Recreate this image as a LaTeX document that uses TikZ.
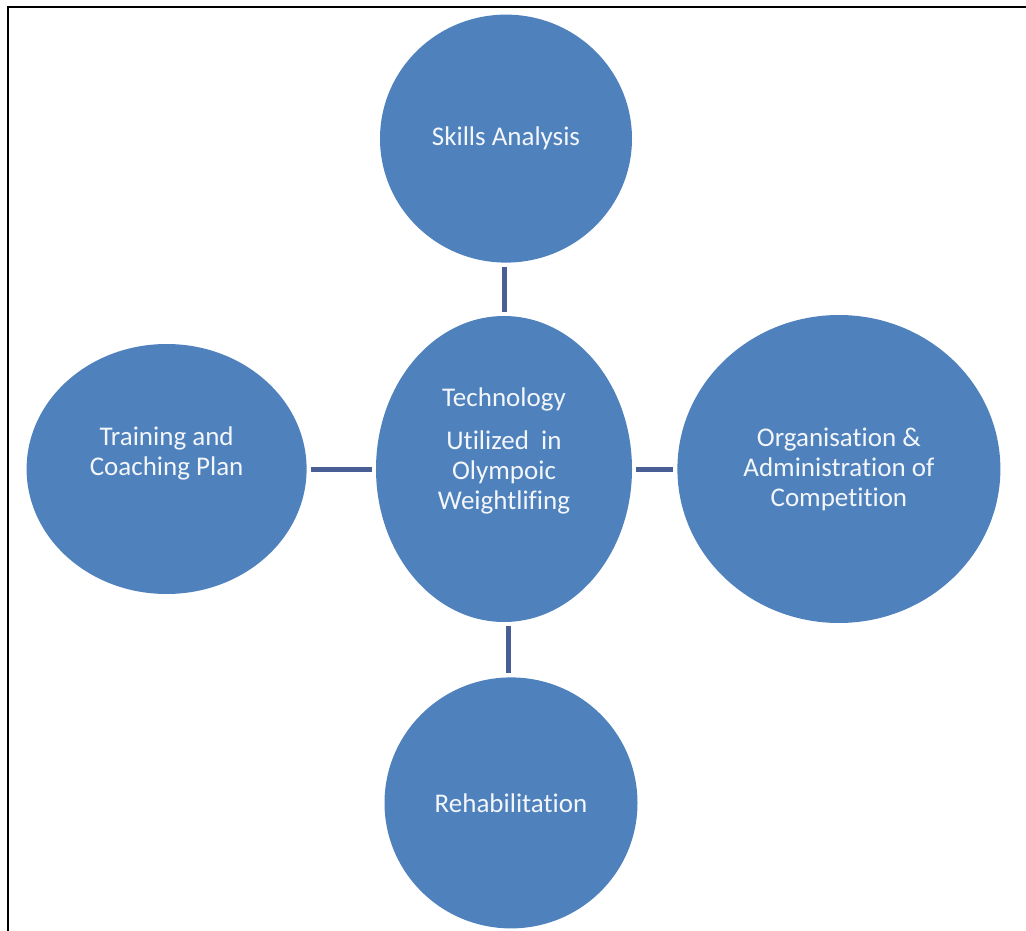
\documentclass[tikz,border=0pt]{standalone}
\usepackage{fontspec}
\setmainfont{Carlito}[Ligatures=NoCommon]
\usetikzlibrary{shapes.geometric,positioning}

\definecolor{bubblefill}{HTML}{4F81BD}
\definecolor{linkcol}{HTML}{4A5E96}

\tikzset{
  bubble/.style={ellipse, fill=bubblefill, text=white!93!bubblefill, align=center,
    inner sep=0pt, font=\fontsize{27}{30}\selectfont},
  link/.style={draw=linkcol, line width=5pt, shorten <=4pt, shorten >=4pt}
}

\begin{document}
\begin{tikzpicture}[x=1pt, y=-1pt]
    \useasboundingbox (0,0) rectangle (1026,931);
    % Frame
    \draw[line width=2pt] (8,931) -- (8,7) -- (1026,7);

    % Nodes
    \node[bubble, minimum width=256pt, minimum height=306pt, text depth=40pt] (tech) at (504,469)
        {Technology\\[13pt]Utilized~ in\\Olympoic\\Weightlifing};
    \node[bubble, minimum width=252pt, minimum height=248pt, above=53pt of tech, xshift=2pt] (skills)
        {Skills Analysis};
    \node[bubble, minimum width=280pt, minimum height=250pt, left=69pt of tech, text depth=36pt] (plan)
        {Training and\\Coaching Plan};
    \node[bubble, minimum width=323pt, minimum height=308pt, right=45pt of tech] (org)
        {Organisation \&\\Administration of\\Competition};
    \node[bubble, minimum width=253pt, minimum height=251pt, below=55pt of tech, xshift=7pt] (rehab)
        {Rehabilitation};

    % Links
    \draw[link] (tech) -- (tech |- skills.south);
    \draw[link] (plan) -- (tech);
    \draw[link] (tech) -- (org);
    \draw[link] ([xshift=4pt]tech.south) -- ([xshift=4pt]tech.south |- rehab.north);
\end{tikzpicture}
\end{document}
